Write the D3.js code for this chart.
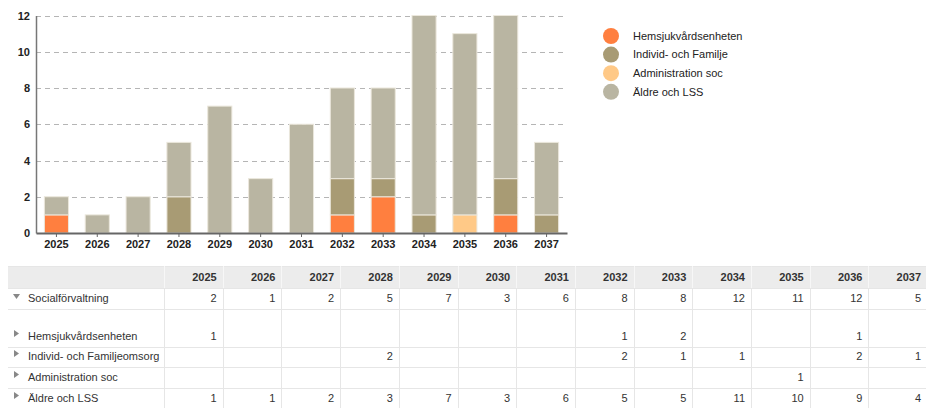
<!DOCTYPE html>
<html>
<head>
<meta charset="utf-8">
<script src="https://cdn.jsdelivr.net/npm/d3@7"></script>
<style>
	body { margin: 0; background: #fff; }
	svg { display: block; font-family: "Liberation Sans", Arial, sans-serif; }
</style>
</head>
<body>
<svg id="chart" width="926" height="408"></svg>
<script>
(function() {

// DATA

	var years = ["2025","2026","2027","2028","2029","2030","2031","2032","2033","2034","2035","2036","2037"];
	var seriesNames = ["Hemsjukvårdsenheten","Individ- och Familje","Administration soc","Äldre och LSS"];
	var tableNames = ["Hemsjukvårdsenheten","Individ- och Familjeomsorg","Administration soc","Äldre och LSS"];
	var seriesColors = ["#ff7f3f","#a89b74","#ffc987","#b9b5a2"];
	var hemsjuk = [1,0,0,0,0,0,0,1,2,0,0,1,0];
	var individ = [0,0,0,2,0,0,0,2,1,1,0,2,1];
	var admin   = [0,0,0,0,0,0,0,0,0,0,1,0,0];
	var aldre   = [1,1,2,3,7,3,6,5,5,11,10,9,4];
	var yTicks = [0,2,4,6,8,10,12];
	var parentName = "Socialförvaltning";

	var seriesValues = [hemsjuk, individ, admin, aldre];
	var keys = ["s0","s1","s2","s3"];

	var rows = years.map(function(y, i) {
		var r = { year: y };
		keys.forEach(function(k, j) { r[k] = seriesValues[j][i]; });
		return r;
	});
	var totals = years.map(function(y, i) {
		return d3.sum(seriesValues, function(s) { return s[i]; });
	});

	var svg = d3.select('#chart');

// SCALES

	var x = d3.scaleBand().domain(years).range([36, 567]).paddingInner(0.41).paddingOuter(0.205);
	var y = d3.scaleLinear().domain([0, 12]).range([233, 15.5]);
	var color = d3.scaleOrdinal().domain(keys).range(seriesColors);

// GRID

	svg.append('g').selectAll('line')
		.data(yTicks.slice(1))
		.enter().append('line')
		.attr('x1', 36).attr('x2', 567)
		.attr('y1', function(d) { return Math.round(y(d)) + 0.5; })
		.attr('y2', function(d) { return Math.round(y(d)) + 0.5; })
		.attr('stroke', '#b5b5b5')
		.attr('stroke-dasharray', '5,4');

// BARS

	var stack = d3.stack().keys(keys);
	svg.append('g').selectAll('g')
		.data(stack(rows))
		.enter().append('g')
		.attr('fill', function(d) { return color(d.key); })
		.selectAll('rect')
		.data(function(d) { return d.filter(function(p) { return p[1] > p[0]; }); })
		.enter().append('rect')
		.attr('x', function(d) { return x(d.data.year); })
		.attr('width', x.bandwidth())
		.attr('y', function(d) { return y(d[1]); })
		.attr('height', function(d) { return y(d[0]) - y(d[1]); })
		.attr('stroke', '#ebe7dc')
		.attr('stroke-width', 1);

// AXES

	var yAxis = svg.append('g')
		.attr('transform', 'translate(36,0)')
		.call(d3.axisLeft(y).tickValues(yTicks).tickSize(0).tickPadding(6));
	yAxis.select('.domain').attr('stroke', '#777').attr('stroke-width', 1.5);
	yAxis.selectAll('text').attr('font-size', 11).attr('font-weight', 'bold').attr('fill', '#222').attr('font-family', null);

	var xAxis = svg.append('g')
		.attr('transform', 'translate(0,233)')
		.call(d3.axisBottom(x).tickSize(4).tickSizeOuter(0).tickPadding(3));
	xAxis.select('.domain').attr('stroke', '#666').attr('stroke-width', 2);
	xAxis.selectAll('.tick line').attr('stroke', '#666');
	xAxis.selectAll('text').attr('font-size', 11).attr('font-weight', 'bold').attr('fill', '#222').attr('font-family', null);

// LEGEND

	var legend = svg.append('g').selectAll('g')
		.data(seriesNames)
		.enter().append('g')
		.attr('transform', function(d, i) { return 'translate(611,' + (36 + i * 18.6) + ')'; });
	legend.append('circle').attr('r', 8).attr('fill', function(d, i) { return seriesColors[i]; });
	legend.append('text')
		.attr('x', 22).attr('dy', '0.35em')
		.attr('font-size', 11).attr('fill', '#222')
		.text(function(d) { return d; });

// TABLE

	var tLeft = 8, firstCol = 164, colW = 58.7;
	var rowEdges = [266, 288, 309, 347, 367, 388, 409];
	var tRight = firstCol + colW * years.length;
	var colX = d3.scaleLinear().domain([0, years.length]).range([firstCol, tRight]);
	var table = svg.append('g');

	table.append('rect')
		.attr('x', tLeft).attr('y', rowEdges[0])
		.attr('width', tRight - tLeft).attr('height', rowEdges[1] - rowEdges[0])
		.attr('fill', '#ececec');

	// horizontal lines
	table.selectAll('.hline')
		.data(rowEdges)
		.enter().append('line')
		.attr('x1', tLeft).attr('x2', tRight)
		.attr('y1', function(d) { return d + 0.5; }).attr('y2', function(d) { return d + 0.5; })
		.attr('stroke', '#e6e6e6');

	// vertical lines
	table.selectAll('.vline')
		.data(d3.range(years.length + 1))
		.enter().append('line')
		.attr('x1', function(d) { return Math.round(colX(d)) + 0.5; })
		.attr('x2', function(d) { return Math.round(colX(d)) + 0.5; })
		.attr('y1', rowEdges[0]).attr('y2', rowEdges[6])
		.attr('stroke', function(d) { return '#e6e6e6'; });
	table.selectAll('.vhead')
		.data(d3.range(years.length + 1))
		.enter().append('line')
		.attr('x1', function(d) { return Math.round(colX(d)) + 0.5; })
		.attr('x2', function(d) { return Math.round(colX(d)) + 0.5; })
		.attr('y1', rowEdges[0]).attr('y2', rowEdges[1])
		.attr('stroke', '#f7f7f7');

	// header
	table.selectAll('.head')
		.data(years)
		.enter().append('text')
		.attr('x', function(d, i) { return colX(i + 1) - 6; })
		.attr('y', rowEdges[1] - 7)
		.attr('text-anchor', 'end')
		.attr('font-size', 11).attr('font-weight', 'bold').attr('fill', '#333')
		.text(function(d) { return d; });

	var bodyRows = [{ name: parentName, values: totals, open: true }].concat(
		tableNames.map(function(n, j) { return { name: n, values: seriesValues[j], open: false }; })
	);

	var tr = table.selectAll('.row')
		.data(bodyRows)
		.enter().append('g')
		.attr('transform', function(d, i) { return 'translate(0,' + (rowEdges[i + 2] - 7) + ')'; });

	tr.append('path')
		.attr('d', function(d) { return d.open ? 'M13,-8L20,-8L16.5,-3Z' : 'M14,-10L19,-6.5L14,-3Z'; })
		.attr('fill', '#888');

	tr.append('text')
		.attr('x', 28)
		.attr('font-size', 11).attr('fill', '#333')
		.text(function(d) { return d.name; });

	tr.selectAll('.val')
		.data(function(d) { return d.values; })
		.enter().append('text')
		.attr('x', function(d, i) { return colX(i + 1) - 6; })
		.attr('text-anchor', 'end')
		.attr('font-size', 11).attr('fill', '#333')
		.text(function(d) { return d ? d : ''; });

})()
</script>
</body>
</html>
